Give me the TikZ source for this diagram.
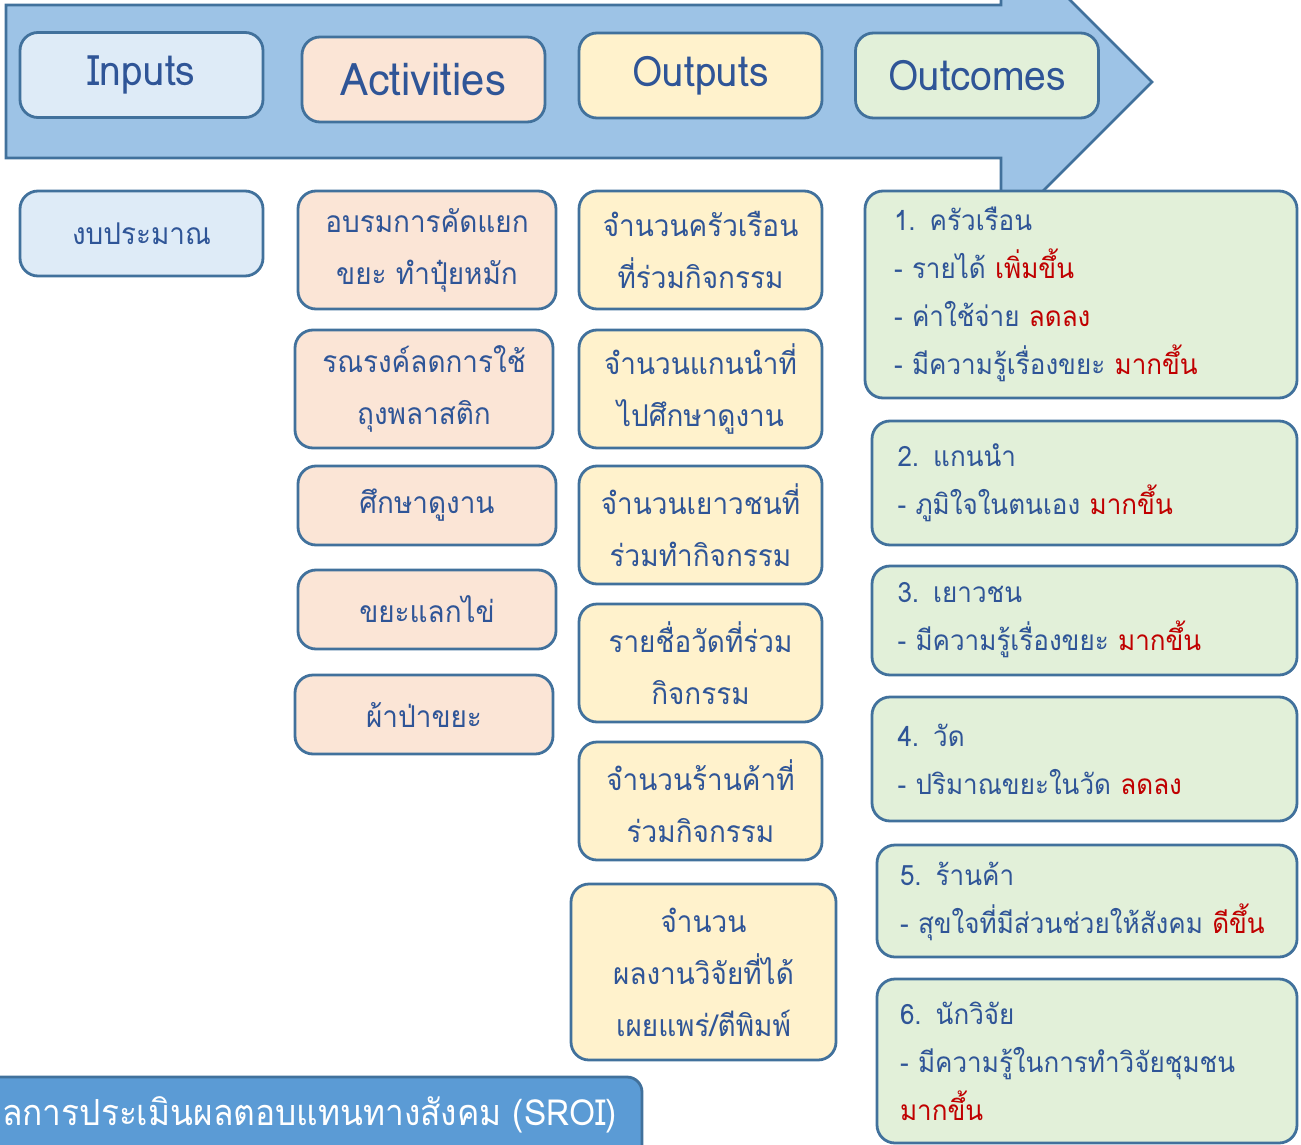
\documentclass[tikz,border=0pt]{standalone}
\usepackage{fontspec}
\setmainfont[Script=Thai,FakeStretch=0.93]{Loma}
\definecolor{edgeblue}{HTML}{41719C}
\definecolor{arrowfill}{HTML}{9DC3E6}
\definecolor{inputfill}{HTML}{DEEBF7}
\definecolor{actfill}{HTML}{FBE5D6}
\definecolor{outfill}{HTML}{FFF2CC}
\definecolor{resfill}{HTML}{E2F0D9}
\definecolor{txtblue}{HTML}{2F5597}
\definecolor{upred}{HTML}{C00000}
\definecolor{bannerfill}{HTML}{5B9BD5}

\begin{document}
\begin{tikzpicture}[x=1pt,y=-1pt,
    box/.style={draw=edgeblue,line width=2.8pt,rounded corners=18pt,text=txtblue,align=center,inner sep=0pt},
    headbox/.style={box,minimum width=243pt,minimum height=85pt,font=\fontsize{42}{48}\selectfont},
    inbox/.style={box,fill=inputfill,minimum width=243pt,minimum height=85pt,font=\fontsize{30}{52}\selectfont},
    actbox/.style={box,fill=actfill,minimum width=258pt,minimum height=79pt,font=\fontsize{30}{52}\selectfont},
    outbox/.style={box,fill=outfill,minimum width=243pt,minimum height=118pt,font=\fontsize{30}{52}\selectfont},
    resbox/.style={box,fill=resfill,align=left,text width=374pt,font=\fontsize{28}{48}\selectfont},
    up/.style={text=upred}]
        \useasboundingbox (0,0) rectangle (1301,1145);
        \clip (0,0) rectangle (1301,1145);
        \draw[edgeblue,fill=arrowfill,line width=2.8pt,line join=miter]
            (6,5)--(1001,5)--(1001,-69)--(1152,82)--(1001,233)--(1001,158)--(6,158)--cycle;
        \node[headbox,fill=inputfill](inputs)at(141.5,75){Inputs};
        \node[headbox,fill=actfill,font=\fontsize{45}{50}\selectfont](activities)at(423.5,79.5){Activities};
        \node[headbox,fill=outfill](outputs)at(700.5,75.5){Outputs};
        \node[headbox,fill=resfill](outcomes)at(977,75.5){Outcomes};

        \node[inbox](budget)at(141.5,233.5){งบประมาณ};

        \node[actbox,minimum height=118pt](act1)at(427,250){อบรมการคัดแยก\\ขยะ ทำปุ๋ยหมัก};
        \node[actbox,minimum height=118pt](act2)at(424,389){รณรงค์ลดการใช้\\ถุงพลาสติก};
        \node[actbox](act3)at(427,505.5){ศึกษาดูงาน};
        \node[actbox](act4)at(427,609.5){ขยะแลกไข่};
        \node[actbox](act5)at(424,714.5){ผ้าป่าขยะ};

        \node[outbox](out1)at(700.5,250){จำนวนครัวเรือน\\ที่ร่วมกิจกรรม};
        \node[outbox](out2)at(700.5,389){จำนวนแกนนำที่\\ไปศึกษาดูงาน};
        \node[outbox](out3)at(700.5,525){จำนวนเยาวชนที่\\ร่วมทำกิจกรรม};
        \node[outbox](out4)at(700.5,663){รายชื่อวัดที่ร่วม\\กิจกรรม};
        \node[outbox](out5)at(700.5,801){จำนวนร้านค้าที่\\ร่วมกิจกรรม};
        \node[outbox,minimum width=265pt,minimum height=176pt](out6)at(703.5,972){จำนวน\\ผลงานวิจัยที่ได้\\เผยแพร่/ตีพิมพ์};

        \node[resbox,minimum width=432pt,minimum height=207pt](res1)at(1081,294.5){1. ครัวเรือน\\- รายได้ {\color{upred}เพิ่มขึ้น}\\- ค่าใช้จ่าย {\color{upred}ลดลง}\\- มีความรู้เรื่องขยะ {\color{upred}มากขึ้น}};
        \node[resbox,minimum width=425pt,minimum height=124pt](res2)at(1084.5,483){2. แกนนำ\\- ภูมิใจในตนเอง {\color{upred}มากขึ้น}};
        \node[resbox,minimum width=425pt,minimum height=109pt](res3)at(1084.5,620.5){3. เยาวชน\\- มีความรู้เรื่องขยะ {\color{upred}มากขึ้น}};
        \node[resbox,minimum width=425pt,minimum height=124pt](res4)at(1084.5,759){4. วัด\\- ปริมาณขยะในวัด {\color{upred}ลดลง}};
        \node[resbox,minimum width=420pt,minimum height=112pt](res5)at(1087,901){5. ร้านค้า\\- สุขใจที่มีส่วนช่วยให้สังคม {\color{upred}ดีขึ้น}};
        \node[resbox,minimum width=420pt,minimum height=164pt](res6)at(1087,1061){6. นักวิจัย\\- มีความรู้ในการทำวิจัยชุมชน\\{\color{upred}มากขึ้น}};

        \draw[edgeblue,fill=bannerfill,line width=2.8pt,rounded corners=15pt](-30,1077)rectangle(642,1180);
        \node[text=white,anchor=west,inner sep=2pt,font=\fontsize{36}{42}\selectfont](banner)at(0,1115){ลการประเมินผลตอบแทนทางสังคม (SROI)};
\end{tikzpicture}
\end{document}
